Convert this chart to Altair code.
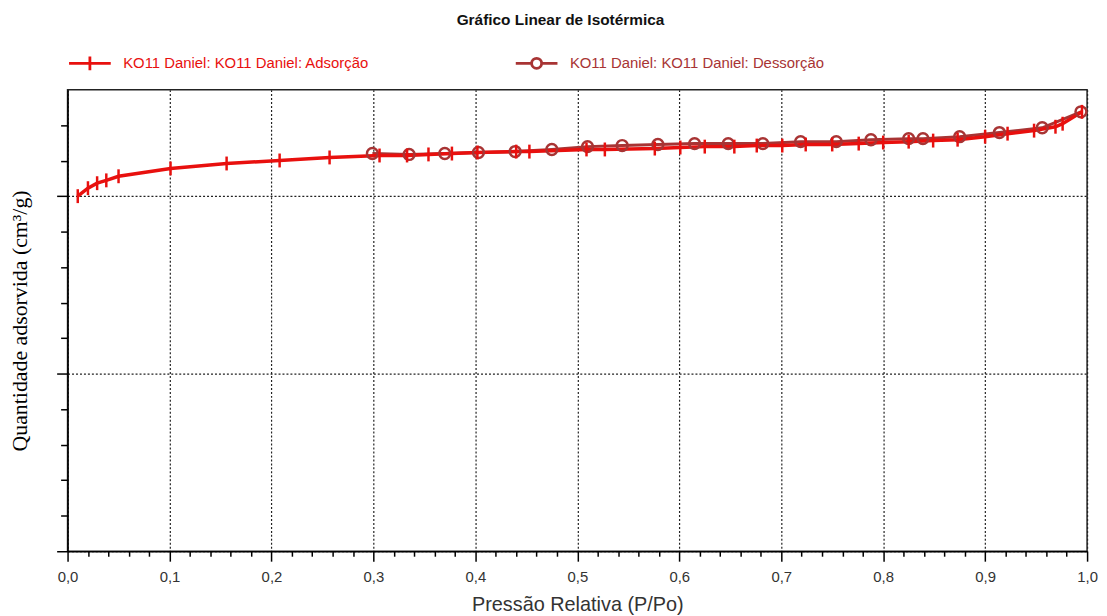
import altair as alt
import pandas as pd

ADS_LABEL = "KO11 Daniel: KO11 Daniel: Adsorção"
DES_LABEL = "KO11 Daniel: KO11 Daniel: Dessorção"
ADS_COLOR = "#e8100e"
DES_COLOR = "#a83434"

# Adsorption branch (P/Po, quantity)
ads_p = [0.010, 0.020, 0.029, 0.038, 0.050, 0.101, 0.156, 0.208, 0.257, 0.306,
         0.333, 0.354, 0.377, 0.402, 0.440, 0.453, 0.509, 0.527, 0.576, 0.601,
         0.625, 0.654, 0.676, 0.701, 0.724, 0.750, 0.776, 0.800, 0.825, 0.849,
         0.873, 0.900, 0.922, 0.948, 0.969, 0.976, 0.995]
ads_q = [200.0, 204.5, 207.3, 208.9, 211.2, 215.6, 218.4, 220.1, 221.8, 222.9,
         222.9, 223.5, 224.0, 224.6, 225.1, 225.1, 226.3, 226.3, 226.8, 227.4,
         227.9, 227.9, 228.5, 228.5, 229.1, 229.1, 229.6, 230.2, 230.7, 231.3,
         231.8, 233.5, 235.2, 236.9, 239.1, 240.8, 247.5]

# Desorption branch
des_p = [0.994, 0.956, 0.914, 0.875, 0.839, 0.825, 0.788, 0.754, 0.719, 0.682,
         0.648, 0.615, 0.579, 0.544, 0.510, 0.475, 0.439, 0.403, 0.370, 0.335,
         0.299]
des_q = [247.5, 238.5, 235.8, 233.5, 232.4, 232.4, 231.8, 230.7, 230.7, 229.6,
         229.6, 229.6, 229.1, 228.5, 227.9, 226.3, 225.1, 224.6, 224.0, 223.5,
         224.0]

x_tick_values = [round(i * 0.02, 2) for i in range(51)]
y_tick_values = [i * 20 for i in range(13)]

ads_df = pd.DataFrame({"p": ads_p, "q": ads_q, "serie": ADS_LABEL})
des_df = pd.DataFrame({"p": des_p, "q": des_q, "serie": DES_LABEL})

x_major = "abs(datum.value*10 - round(datum.value*10)) < 0.001"
y_major = "abs(datum.value/100 - round(datum.value/100)) < 0.001"

x_axis = alt.Axis(
    values=x_tick_values,
    labelExpr=f"{x_major} ? replace(format(datum.value, '.1f'), '.', ',') : ''",
    labelOverlap=False,
    labelFlush=False,
    tickSize={"condition": {"test": x_major, "value": 10}, "value": 5},
    tickColor="#000",
    tickWidth=1.5,
    domainColor="#000",
    domainWidth=1.5,
    grid=True,
    gridOpacity={"condition": {"test": x_major, "value": 1}, "value": 0},
    gridDash=[2, 2],
    gridColor="#222",
    gridWidth=1.2,
    labelFont="Liberation Sans",
    labelFontSize=15,
    labelColor="#333",
    labelPadding=8,
    title="Pressão Relativa (P/Po)",
    titleFont="Liberation Sans",
    titleFontSize=20,
    titleFontWeight="normal",
    titleColor="#333",
    titlePadding=11,
)

y_axis = alt.Axis(
    values=y_tick_values,
    labels=False,
    tickSize={"condition": {"test": y_major, "value": 11}, "value": 7},
    tickColor="#000",
    tickWidth=1.5,
    domainColor="#000",
    domainWidth=1.5,
    grid=True,
    gridOpacity={"condition": {"test": y_major, "value": 1}, "value": 0},
    gridDash=[2, 2],
    gridColor="#222",
    gridWidth=1.2,
    title="Quantidade adsorvida (cm³/g)",
    titleFont="Liberation Serif",
    titleFontSize=22,
    titleFontWeight="normal",
    titleColor="#000",
    titlePadding=25,
)

xs = alt.X("p:Q", scale=alt.Scale(domain=[0, 1], nice=False, zero=False), axis=x_axis)
ys = alt.Y("q:Q", scale=alt.Scale(domain=[0, 260], nice=False, zero=False), axis=y_axis)

ads_path = "M-1,0H1M0,-0.33V0.33"
des_path = ("M-1,0H-0.24M0.24,0H1M-0.24,0A0.24,0.24,0,1,1,0.24,0"
            "A0.24,0.24,0,1,1,-0.24,0")

def legend(path, color, x):
    return alt.Legend(
        orient="none", legendX=x, legendY=-49, title=None,
        symbolType=path, symbolSize=1764, symbolStrokeWidth=2.8,
        symbolFillColor="transparent",
        labelColor=color, labelFont="Liberation Sans", labelFontSize=15,
        labelOffset=11, labelLimit=0, padding=0,
    )

ads_line = alt.Chart(ads_df).mark_line(strokeWidth=3.5).encode(
    x=xs, y=ys,
    color=alt.Color("serie:N", scale=alt.Scale(domain=[ADS_LABEL], range=[ADS_COLOR]),
                    legend=legend(ads_path, ADS_COLOR, 0)),
)
ads_ticks = alt.Chart(ads_df).mark_tick(orient="vertical", size=14, thickness=2.5,
                                        color=ADS_COLOR, opacity=1).encode(x=xs, y=ys)

des_line = alt.Chart(des_df).mark_line(strokeWidth=3).encode(
    x=xs, y=ys,
    color=alt.Color("serie:N", scale=alt.Scale(domain=[DES_LABEL], range=[DES_COLOR]),
                    legend=legend(des_path, DES_COLOR, 450)),
)
des_pts = alt.Chart(des_df).mark_point(shape="circle", filled=False, size=120,
                                       strokeWidth=2.5, color=DES_COLOR,
                                       opacity=1).encode(x=xs, y=ys)

chart = alt.layer(des_line, ads_line, des_pts, ads_ticks).resolve_scale(
    color="independent"
).properties(
    width=1027,
    height=465,
    padding={"left": 60, "top": 80, "right": 12, "bottom": 63},
    autosize=alt.AutoSizeParams(type="none"),
    title=alt.TitleParams(
        "Gráfico Linear de Isotérmica",
        font="Liberation Sans", fontSize=15.5, fontWeight="bold", color="#111",
        anchor="middle", dx=-17, offset=13,
    ),
).configure_view(stroke="#222", strokeWidth=1.5)

chart.save("out.html", embed_options={"renderer": "svg", "actions": False})
